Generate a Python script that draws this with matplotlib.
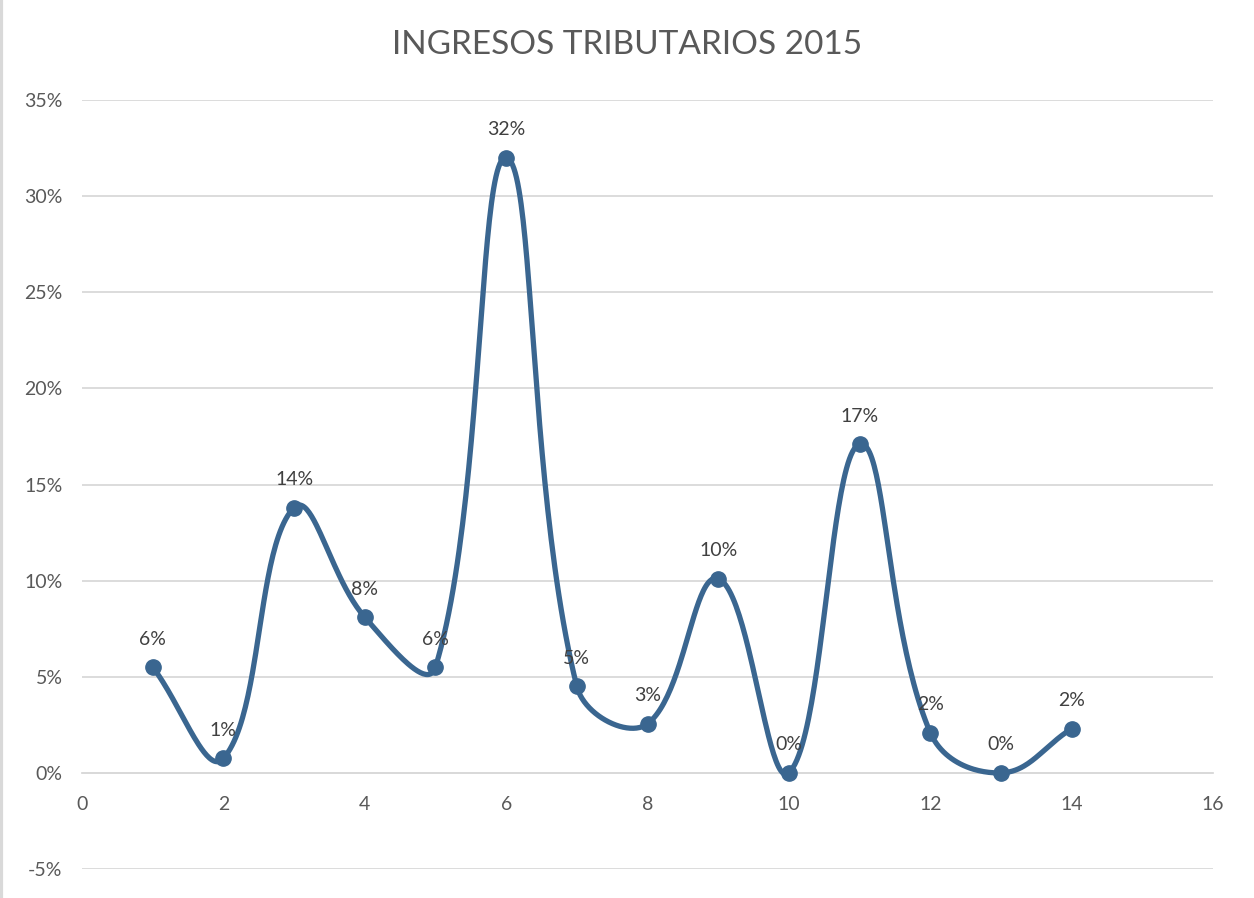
import matplotlib.pyplot as plt
import numpy as np

# data
x_vals = [1, 2, 3, 4, 5, 6, 7, 8, 9, 10, 11, 12, 13, 14]
y_vals = [5.5, 0.75, 13.8, 8.1, 5.5, 32.0, 4.5, 2.55, 10.1, 0.0, 17.1, 2.1, 0.0, 2.3]
labels = ['6%', '1%', '14%', '8%', '6%', '32%', '5%', '3%', '10%', '0%', '17%', '2%', '0%', '2%']
title = 'INGRESOS TRIBUTARIOS 2015'

line_color = '#3A6690'
text_color = '#595959'
grid_color = '#D9D9D9'

plt.rcParams['font.family'] = ['Lato', 'DejaVu Sans']


def smooth(ax, xs, ys, k=0.4, n=50):
    # Excel-like smoothed line, built in screen space: Bezier segments whose
    # control arms are weighted by the neighbouring segment lengths
    pts = ax.transData.transform(np.column_stack([xs, ys]))
    m = len(pts)
    out = []
    t = np.linspace(0, 1, n)[:, None]
    for i in range(m - 1):
        p0, p3 = pts[i], pts[i + 1]
        d = np.linalg.norm(p3 - p0)
        prev = pts[i - 1] if i > 0 else p0
        nxt = pts[i + 2] if i + 2 < m else p3
        d_prev = np.linalg.norm(p0 - prev)
        d_next = np.linalg.norm(nxt - p3)
        c1 = p0 + (p3 - prev) * d / (d_prev + d) * k
        c2 = p3 - (nxt - p0) * d / (d + d_next) * k
        b = (1 - t) ** 3 * p0 + 3 * (1 - t) ** 2 * t * c1 + 3 * (1 - t) * t ** 2 * c2 + t ** 3 * p3
        out.append(b)
    out = ax.transData.inverted().transform(np.vstack(out))
    return out[:, 0], out[:, 1]


fig = plt.figure(figsize=(12.54, 8.98), dpi=100)
ax = fig.add_axes([82 / 1254, 1 - 869 / 898, (1213 - 82) / 1254, (869 - 100) / 898])
ax.set_xlim(0, 16)
ax.set_ylim(-5, 35)

sx, sy = smooth(ax, x_vals, y_vals)
ax.plot(sx, sy, color=line_color, linewidth=3.8, solid_capstyle='round', zorder=3)
ax.plot(x_vals, y_vals, 'o', color=line_color, markersize=11, zorder=4)

for x, y, lab in zip(x_vals, y_vals, labels):
    ax.annotate(lab, (x, y), xytext=(0, 14), textcoords='offset points',
                ha='center', va='bottom', fontsize=14, color='#404040')

ax.set_xticks(np.arange(0, 17, 2))
ax.set_yticks(np.arange(-5, 36, 5))
ax.set_yticklabels([f'{v}%' for v in range(-5, 36, 5)])
ax.grid(axis='y', color=grid_color, linewidth=1.3)
ax.set_axisbelow(True)

for s in ['top', 'right', 'left']:
    ax.spines[s].set_visible(False)
ax.spines['bottom'].set_position(('data', 0))
ax.spines['bottom'].set_color(grid_color)
ax.spines['bottom'].set_linewidth(1.3)
ax.tick_params(axis='both', length=0, labelsize=14, labelcolor=text_color)
ax.tick_params(axis='x', pad=17)
ax.tick_params(axis='y', pad=14)

fig.text(0.5, 1 - 45 / 898, title, ha='center', va='center', fontsize=24, color=text_color)
fig.add_artist(plt.Line2D([0.001, 0.001], [0, 1], color=grid_color, linewidth=3))

fig.savefig('out.png', dpi=100)
